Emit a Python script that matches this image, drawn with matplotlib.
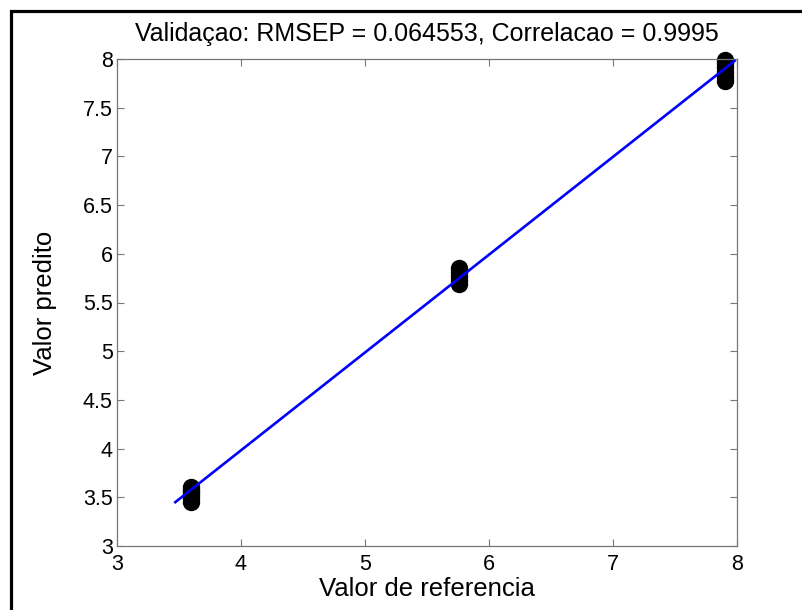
import numpy as np
import matplotlib
matplotlib.use('Agg')
from matplotlib import pyplot as plt
from matplotlib.patches import Rectangle

# reference values and predictions for the validation set
ref_vals = [3.60, 3.60, 3.60, 3.60, 3.60, 3.60,
            5.76, 5.76, 5.76, 5.76, 5.76,
            7.90, 7.90, 7.90, 7.90, 7.90, 7.90]
pred_vals = [3.45, 3.49, 3.52, 3.55, 3.58, 3.61,
             5.69, 5.73, 5.77, 5.81, 5.85,
             7.77, 7.82, 7.87, 7.92, 7.96, 7.99]

# fitted line end points
fit_x = [3.47, 7.98]
fit_y = [3.45, 7.98]

rmsep = 0.064553
corr = 0.9995

plt.rcParams['font.family'] = ['Liberation Sans', 'DejaVu Sans']

fig = plt.figure(figsize=(8.03, 6.10), dpi=100)
ax = fig.add_axes([117/803, 1 - 546/610, 620/803, 487/610])

ax.plot(ref_vals, pred_vals, 'o', color='black', markersize=11.5,
        markeredgewidth=1, zorder=2, clip_on=False)
ax.plot(fit_x, fit_y, '-', color='blue', linewidth=1.9, zorder=3)

ax.set_xlim(3, 8)
ax.set_ylim(3, 8)
ax.set_xticks(np.arange(3, 9, 1))
ax.set_yticks(np.arange(3, 8.5, 0.5))
ax.set_yticklabels(['3', '3.5', '4', '4.5', '5', '5.5', '6', '6.5', '7', '7.5', '8'])

for s in ax.spines.values():
    s.set_color('#777777')
    s.set_linewidth(0.9)
ax.tick_params(direction='in', length=5, width=0.8, color='#777777',
               top=True, right=True, labelsize=15.5)
ax.tick_params(axis='x', pad=6)
ax.tick_params(axis='y', pad=3)

ax.set_xlabel('Valor de referencia', fontsize=18.5, labelpad=1)
ax.set_ylabel('Valor predito', fontsize=18.5, labelpad=19)
ax.set_title('Validaçao: RMSEP = %.6f, Correlacao = %.4f' % (rmsep, corr),
             fontsize=18, pad=13)

# frame around the whole figure
fig.add_artist(Rectangle((11.5/803, -0.1), 1.2, 1.1 - 10.5/610,
                         transform=fig.transFigure, fill=False,
                         edgecolor='black', linewidth=2.3))

fig.savefig('out.png', dpi=100)
